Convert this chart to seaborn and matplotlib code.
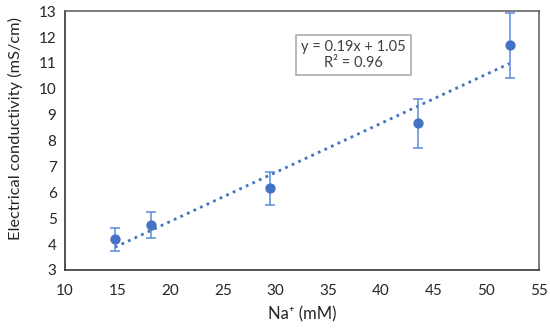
import numpy as np
import pandas as pd
import matplotlib
matplotlib.use("Agg")
import matplotlib.pyplot as plt
import seaborn as sns

na_mM = [14.75, 18.2, 29.5, 43.5, 52.2]
conductivity = [4.18, 4.72, 6.15, 8.66, 11.68]
cond_err = [0.46, 0.50, 0.64, 0.93, 1.25]
eq_text = "y = 0.19x + 1.05\nR² = 0.96"
x_ticks = [10, 15, 20, 25, 30, 35, 40, 45, 50, 55]
y_ticks = [3, 4, 5, 6, 7, 8, 9, 10, 11, 12, 13]

sns.set_theme(style="white")
plt.rcParams['font.family'] = ['Lato', 'DejaVu Sans']

df = pd.DataFrame({"x": na_mM, "y": conductivity, "err": cond_err})
blue = "#4472C4"

fig = plt.figure(figsize=(5.5, 3.28), dpi=100)
ax = fig.add_axes([0.118, 0.177, 0.862, 0.789])

# trendline
slope, intercept = np.polyfit(df["x"], df["y"], 1)
tx = np.array([min(na_mM), max(na_mM)])
trend = pd.DataFrame({"x": tx, "y": slope * tx + intercept})
sns.lineplot(data=trend, x="x", y="y", ax=ax, color=blue, linestyle=(0, (1, 1.6)),
             linewidth=2.0, zorder=2)

ax.errorbar(df["x"], df["y"], yerr=df["err"], fmt="none", ecolor="#5B8BD9",
            elinewidth=1.1, capsize=3.5, capthick=1.1, zorder=3)
sns.scatterplot(data=df, x="x", y="y", ax=ax, color=blue, s=55, edgecolor=blue,
                linewidth=0, zorder=4)

ax.set_xlim(10, 55)
ax.set_ylim(3, 13)
ax.set_xticks(x_ticks)
ax.set_yticks(y_ticks)
ax.tick_params(axis="both", direction="in", length=4, width=1, colors="#404040",
               labelsize=11, labelcolor="#262626", pad=6)
ax.tick_params(axis="x", pad=10)
for s in ["left", "bottom"]:
    ax.spines[s].set_color("#262626")
    ax.spines[s].set_linewidth(1.1)
for s in ["top", "right"]:
    ax.spines[s].set_color("#595959")
    ax.spines[s].set_linewidth(1.1)

ax.set_xlabel("Na⁺ (mM)", fontsize=12, color="#262626", labelpad=6)
ax.set_ylabel("Electrical conductivity (mS/cm)", fontsize=11.8, color="#262626")
ax.yaxis.set_label_coords(-0.088, 0.548)

ax.text(37.35, 11.3, eq_text, ha="center", va="center", fontsize=10.5,
        color="#404040", linespacing=1.15,
        bbox=dict(boxstyle="square,pad=0.35", facecolor="white", edgecolor="#A6A6A6", linewidth=1.1))

fig.savefig("out.png", dpi=100)
